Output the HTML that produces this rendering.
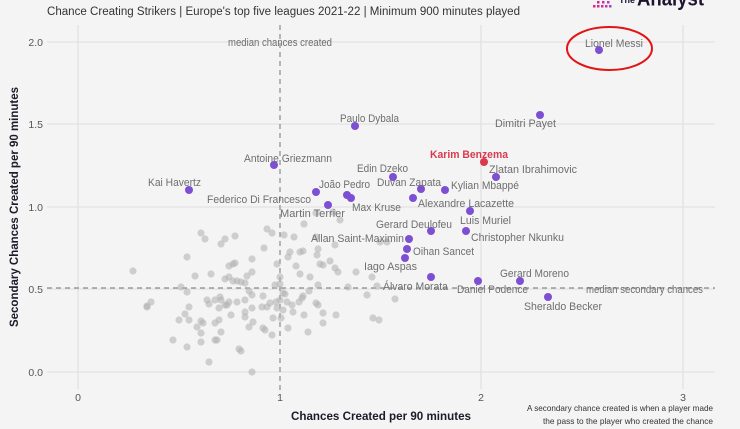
<!DOCTYPE html>
<html><head><meta charset="utf-8"><style>
html,body{margin:0;padding:0;background:#f4f4f4;}
svg{display:block;font-family:"Liberation Sans",sans-serif;}
.lb{font-size:11px;fill:#6e6e6e;}
.tk{font-size:10.5px;fill:#555;}
.g{fill:#b4b4b4;fill-opacity:0.6;}
.p{fill:#7d4fd3;}
</style></head><body>
<svg width="740" height="429" viewBox="0 0 740 429" xmlns="http://www.w3.org/2000/svg">
<rect width="740" height="429" fill="#f4f4f4"/>
<!-- logo -->
<g>
<rect x="593" y="5" width="2.5" height="2.5" fill="#e0287a"/><rect x="597" y="5" width="2.5" height="2.5" fill="#d82890"/><rect x="601" y="5" width="2.5" height="2.5" fill="#c830a8"/><rect x="605" y="5" width="2.5" height="2.5" fill="#b838c0"/><rect x="609" y="5" width="2.5" height="2.5" fill="#a040d0"/>
<rect x="597" y="1" width="2.5" height="2.5" fill="#d82890"/><rect x="602" y="1" width="2.5" height="2.5" fill="#c830a8"/><rect x="607" y="1" width="2.5" height="2.5" fill="#b038c8"/>
</g>
<text x="619" y="3" font-size="9" font-weight="bold" fill="#1e1430">The</text>
<text x="637" y="5.5" font-size="21" font-weight="bold" fill="#1e1430" textLength="67" lengthAdjust="spacingAndGlyphs">Analyst</text>
<!-- title -->
<text x="47" y="15" font-size="11.5" fill="#333" textLength="473" lengthAdjust="spacingAndGlyphs">Chance Creating Strikers | Europe's top five leagues 2021-22 | Minimum 900 minutes played</text>
<!-- grid -->
<g stroke="#e2e2e2" stroke-width="1.3">
<line x1="47" y1="42" x2="715" y2="42"/>
<line x1="47" y1="124" x2="715" y2="124"/>
<line x1="47" y1="207" x2="715" y2="207"/>
<line x1="47" y1="289" x2="715" y2="289"/>
<line x1="47" y1="372" x2="715" y2="372"/>
<line x1="78" y1="25" x2="78" y2="389"/>
<line x1="481" y1="25" x2="481" y2="389"/>
<line x1="683" y1="25" x2="683" y2="389"/>
</g>
<!-- median lines -->
<g stroke="#8a8a8a" stroke-width="1.2" stroke-dasharray="5,4">
<line x1="47" y1="288" x2="715" y2="288"/>
<line x1="280" y1="25" x2="280" y2="391"/>
</g>
<!-- tick labels -->
<g class="tk" text-anchor="end">
<text x="43" y="46">2.0</text>
<text x="43" y="128">1.5</text>
<text x="43" y="211">1.0</text>
<text x="43" y="293">0.5</text>
<text x="43" y="376">0.0</text>
</g>
<g class="tk" text-anchor="middle">
<text x="78" y="401">0</text>
<text x="280" y="401">1</text>
<text x="481" y="401">2</text>
<text x="683" y="401">3</text>
</g>
<!-- axis titles -->
<text x="381" y="420" font-size="12" font-weight="bold" fill="#1e1a2a" text-anchor="middle" textLength="180" lengthAdjust="spacingAndGlyphs">Chances Created per 90 minutes</text>
<text transform="translate(18,207) rotate(-90)" font-size="12" font-weight="bold" fill="#1e1a2a" text-anchor="middle" textLength="240" lengthAdjust="spacingAndGlyphs">Secondary Chances Created per 90 minutes</text>
<g font-size="8.5" fill="#333" text-anchor="end">
<text x="713" y="411" textLength="186" lengthAdjust="spacingAndGlyphs">A secondary chance created is when a player made</text>
<text x="713" y="424" textLength="170" lengthAdjust="spacingAndGlyphs">the pass to the player who created the chance</text>
</g>
<!-- gray dots -->
<g class="g">
<circle cx="201" cy="233" r="3.6"/><circle cx="205" cy="239" r="3.6"/><circle cx="225" cy="239" r="3.6"/><circle cx="221" cy="244" r="3.6"/><circle cx="235" cy="236" r="3.6"/><circle cx="267" cy="229" r="3.6"/><circle cx="272" cy="233" r="3.6"/>
<circle cx="264" cy="248" r="3.6"/><circle cx="187" cy="257" r="3.6"/><circle cx="252" cy="259" r="3.6"/><circle cx="229" cy="266" r="3.6"/><circle cx="233" cy="264" r="3.6"/><circle cx="235" cy="263" r="3.6"/><circle cx="277" cy="264" r="3.6"/>
<circle cx="133" cy="271" r="3.6"/><circle cx="195" cy="276" r="3.6"/><circle cx="211" cy="274" r="3.6"/><circle cx="252" cy="272" r="3.6"/><circle cx="247" cy="276" r="3.6"/>
<circle cx="225" cy="279" r="3.6"/><circle cx="229" cy="277" r="3.6"/><circle cx="233" cy="281" r="3.6"/><circle cx="237" cy="281" r="3.6"/><circle cx="241" cy="282" r="3.6"/><circle cx="245" cy="283" r="3.6"/><circle cx="280" cy="277" r="3.6"/>
<circle cx="275" cy="285" r="3.6"/><circle cx="280" cy="284" r="3.6"/><circle cx="181" cy="287" r="3.6"/><circle cx="187" cy="292" r="3.6"/><circle cx="249" cy="291" r="3.6"/><circle cx="252" cy="295" r="3.6"/><circle cx="283" cy="293" r="3.6"/>
<circle cx="263" cy="296" r="3.6"/><circle cx="207" cy="300" r="3.6"/><circle cx="209" cy="304" r="3.6"/><circle cx="215" cy="300" r="3.6"/><circle cx="220" cy="297" r="3.6"/><circle cx="221" cy="300" r="3.6"/><circle cx="225" cy="305" r="3.6"/><circle cx="227" cy="305" r="3.6"/><circle cx="229" cy="302" r="3.6"/><circle cx="237" cy="302" r="3.6"/><circle cx="245" cy="300" r="3.6"/>
<circle cx="151" cy="302" r="3.6"/><circle cx="147" cy="306" r="3.6"/><circle cx="147" cy="307" r="3.6"/><circle cx="189" cy="307" r="3.6"/><circle cx="219" cy="308" r="3.6"/><circle cx="252" cy="308" r="3.6"/><circle cx="262" cy="307" r="3.6"/><circle cx="267" cy="307" r="3.6"/><circle cx="270" cy="303" r="3.6"/><circle cx="276" cy="302" r="3.6"/><circle cx="277" cy="308" r="3.6"/><circle cx="280" cy="300" r="3.6"/>
<circle cx="185" cy="314" r="3.6"/><circle cx="179" cy="320" r="3.6"/><circle cx="189" cy="320" r="3.6"/><circle cx="201" cy="321" r="3.6"/><circle cx="203" cy="323" r="3.6"/><circle cx="197" cy="327" r="3.6"/><circle cx="219" cy="320" r="3.6"/><circle cx="215" cy="323" r="3.6"/><circle cx="231" cy="315" r="3.6"/><circle cx="245" cy="312" r="3.6"/><circle cx="245" cy="317" r="3.6"/><circle cx="253" cy="322" r="3.6"/><circle cx="249" cy="327" r="3.6"/><circle cx="273" cy="318" r="3.6"/><circle cx="281" cy="318" r="3.6"/>
<circle cx="263" cy="328" r="3.6"/><circle cx="265" cy="330" r="3.6"/><circle cx="272" cy="335" r="3.6"/><circle cx="221" cy="332" r="3.6"/><circle cx="201" cy="333" r="3.6"/><circle cx="173" cy="340" r="3.6"/><circle cx="187" cy="347" r="3.6"/><circle cx="201" cy="342" r="3.6"/><circle cx="215" cy="340" r="3.6"/><circle cx="217" cy="340" r="3.6"/><circle cx="239" cy="349" r="3.6"/><circle cx="241" cy="351" r="3.6"/><circle cx="209" cy="362" r="3.6"/><circle cx="252" cy="372" r="3.6"/>
<circle cx="316" cy="213" r="3.6"/><circle cx="333" cy="212" r="3.6"/><circle cx="340" cy="220" r="3.6"/><circle cx="304" cy="224" r="3.6"/><circle cx="284" cy="235" r="3.6"/><circle cx="294" cy="237" r="3.6"/><circle cx="316" cy="237" r="3.6"/><circle cx="335" cy="245" r="3.6"/><circle cx="380" cy="242" r="3.6"/><circle cx="387" cy="242" r="3.6"/>
<circle cx="318" cy="249" r="3.6"/><circle cx="317" cy="255" r="3.6"/><circle cx="303" cy="251" r="3.6"/><circle cx="300" cy="252" r="3.6"/><circle cx="290" cy="252" r="3.6"/><circle cx="288" cy="257" r="3.6"/><circle cx="330" cy="261" r="3.6"/><circle cx="320" cy="264" r="3.6"/><circle cx="323" cy="265" r="3.6"/><circle cx="335" cy="268" r="3.6"/><circle cx="338" cy="272" r="3.6"/><circle cx="356" cy="272" r="3.6"/><circle cx="296" cy="266" r="3.6"/>
<circle cx="300" cy="274" r="3.6"/><circle cx="310" cy="277" r="3.6"/><circle cx="372" cy="277" r="3.6"/><circle cx="318" cy="285" r="3.6"/><circle cx="348" cy="287" r="3.6"/><circle cx="377" cy="286" r="3.6"/><circle cx="309" cy="291" r="3.6"/><circle cx="367" cy="295" r="3.6"/><circle cx="395" cy="299" r="3.6"/><circle cx="285" cy="294" r="3.6"/><circle cx="303" cy="296" r="3.6"/><circle cx="302" cy="298" r="3.6"/>
<circle cx="316" cy="303" r="3.6"/><circle cx="318" cy="305" r="3.6"/><circle cx="323" cy="313" r="3.6"/><circle cx="336" cy="315" r="3.6"/><circle cx="304" cy="315" r="3.6"/><circle cx="323" cy="323" r="3.6"/><circle cx="293" cy="312" r="3.6"/><circle cx="373" cy="318" r="3.6"/><circle cx="379" cy="320" r="3.6"/><circle cx="308" cy="332" r="3.6"/><circle cx="283" cy="310" r="3.6"/><circle cx="287" cy="302" r="3.6"/><circle cx="288" cy="328" r="3.6"/><circle cx="292" cy="305" r="3.6"/><circle cx="299" cy="302" r="3.6"/>
</g>
<!-- purple dots -->
<g class="p">
<circle cx="599" cy="50" r="4"/><circle cx="540" cy="115" r="4"/><circle cx="355" cy="126" r="4"/><circle cx="274" cy="165" r="4"/><circle cx="189" cy="190" r="4"/><circle cx="316" cy="192" r="4"/><circle cx="328" cy="205" r="4"/><circle cx="347" cy="195" r="4"/><circle cx="351" cy="198" r="4"/><circle cx="393" cy="177" r="4"/><circle cx="421" cy="189" r="4"/><circle cx="445" cy="190" r="4"/><circle cx="496" cy="177" r="4"/><circle cx="413" cy="198" r="4"/><circle cx="470" cy="211" r="4"/><circle cx="431" cy="231" r="4"/><circle cx="466" cy="231" r="4"/><circle cx="409" cy="239" r="4"/><circle cx="407" cy="249" r="4"/><circle cx="405" cy="258" r="4"/><circle cx="431" cy="277" r="4"/><circle cx="478" cy="281" r="4"/><circle cx="520" cy="281" r="4"/><circle cx="548" cy="297" r="4"/>
</g>
<circle cx="484" cy="162" r="4" fill="#d83a4e"/>
<!-- labels -->
<g class="lb">
<text x="228" y="46" textLength="104" lengthAdjust="spacingAndGlyphs">median chances created</text>
<text x="586" y="293" textLength="117" lengthAdjust="spacingAndGlyphs">median secondary chances</text>
<text x="585" y="47" textLength="58" lengthAdjust="spacingAndGlyphs">Lionel Messi</text>
<text x="495" y="127" textLength="61" lengthAdjust="spacingAndGlyphs">Dimitri Payet</text>
<text x="340" y="122" textLength="59" lengthAdjust="spacingAndGlyphs">Paulo Dybala</text>
<text x="244" y="162" textLength="88" lengthAdjust="spacingAndGlyphs">Antoine Griezmann</text>
<text x="148" y="186" textLength="53" lengthAdjust="spacingAndGlyphs">Kai Havertz</text>
<text x="319" y="188" textLength="51" lengthAdjust="spacingAndGlyphs">João Pedro</text>
<text x="207" y="203" textLength="104" lengthAdjust="spacingAndGlyphs">Federico Di Francesco</text>
<text x="280" y="217" textLength="65" lengthAdjust="spacingAndGlyphs">Martin Terrier</text>
<text x="352" y="211" textLength="49" lengthAdjust="spacingAndGlyphs">Max Kruse</text>
<text x="357" y="172" textLength="51" lengthAdjust="spacingAndGlyphs">Edin Dzeko</text>
<text x="377" y="186" textLength="64" lengthAdjust="spacingAndGlyphs">Duvan Zapata</text>
<text x="451" y="189" textLength="68" lengthAdjust="spacingAndGlyphs">Kylian Mbappé</text>
<text x="489" y="173" textLength="88" lengthAdjust="spacingAndGlyphs">Zlatan Ibrahimovic</text>
<text x="418" y="207" textLength="96" lengthAdjust="spacingAndGlyphs">Alexandre Lacazette</text>
<text x="460" y="224" textLength="51" lengthAdjust="spacingAndGlyphs">Luis Muriel</text>
<text x="376" y="228" textLength="76" lengthAdjust="spacingAndGlyphs">Gerard Deulofeu</text>
<text x="471" y="241" textLength="93" lengthAdjust="spacingAndGlyphs">Christopher Nkunku</text>
<text x="311" y="242" textLength="93" lengthAdjust="spacingAndGlyphs">Allan Saint-Maximin</text>
<text x="413" y="255" textLength="61" lengthAdjust="spacingAndGlyphs">Oihan Sancet</text>
<text x="364" y="270" textLength="53" lengthAdjust="spacingAndGlyphs">Iago Aspas</text>
<text x="383" y="290" textLength="65" lengthAdjust="spacingAndGlyphs">Álvaro Morata</text>
<text x="457" y="293" textLength="71" lengthAdjust="spacingAndGlyphs">Daniel Podence</text>
<text x="500" y="277" textLength="69" lengthAdjust="spacingAndGlyphs">Gerard Moreno</text>
<text x="524" y="310" textLength="78" lengthAdjust="spacingAndGlyphs">Sheraldo Becker</text>
</g>
<text x="430" y="158" font-size="11" font-weight="bold" fill="#d83a4e" textLength="78" lengthAdjust="spacingAndGlyphs">Karim Benzema</text>
<!-- red ellipse -->
<ellipse cx="609.5" cy="48.5" rx="42.5" ry="21.5" fill="none" stroke="#e31414" stroke-width="2"/>
</svg>
</body></html>
